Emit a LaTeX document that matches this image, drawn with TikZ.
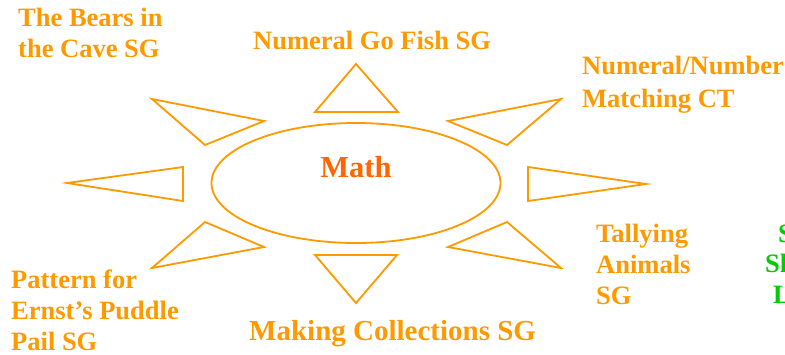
\documentclass[tikz,border=0pt]{standalone}
\usepackage{fontspec}
\setmainfont{Liberation Serif}
\usetikzlibrary{shapes.geometric}
\definecolor{sunorange}{HTML}{FF9900}
\definecolor{hubtext}{HTML}{FF6600}
\definecolor{leafgreen}{HTML}{00CC00}
\tikzset{ray/.style={draw=sunorange,line width=1.8pt,line join=miter},hub/.style={ellipse,draw=sunorange,line width=1.8pt,minimum width=289pt,minimum height=120pt,inner sep=0pt},hublabel/.style={text=hubtext,font=\fontsize{30.5}{32}\selectfont\bfseries,inner sep=0pt,anchor=base},topic/.style={text=sunorange,font=\fontsize{26.5}{30.7}\selectfont\bfseries,align=left,inner sep=0pt,anchor=base west},cuttopic/.style={topic,text=leafgreen}}
\begin{document}
\begin{tikzpicture}[x=1pt,y=-1pt]
\useasboundingbox (0,0) rectangle (785,354);
\clip (0,0) rectangle (785,354);
\node[hub] (mathhub) at (356,183) {};
\node[hublabel] (math) at (356,177) {Math};
\draw[ray] (356,64) -- (315,112) -- (398,112) -- cycle;
\draw[ray] (152,99) -- (264,121) -- (205,145) -- cycle;
\draw[ray] (561,99) -- (448,121) -- (507,145) -- cycle;
\draw[ray] (67,183) -- (183,167) -- (183,201) -- cycle;
\draw[ray] (646,184) -- (528,167) -- (528,201) -- cycle;
\draw[ray] (205,222) -- (264,247) -- (152,268) -- cycle;
\draw[ray] (507,222) -- (448,247) -- (561,268) -- cycle;
\draw[ray] (315,255) -- (397,255) -- (356,303) -- cycle;
% base anchor of a wrapped node sits on its last line
\node[topic] (bears) at (18,57) {The Bears in\\the Cave SG};
\node[topic] (gofish) at (253,49) {Numeral Go Fish SG};
\node[topic,font=\fontsize{26.5}{32.5}\selectfont\bfseries] (matching) at (582,107) {Numeral/Number\\Matching CT};
\node[topic] (tallying) at (596,304) {Tallying\\Animals\\SG};
\node[topic] (pattern) at (11,350) {Pattern for\\Ernst's Puddle\\Pail SG};
\node[topic,font=\fontsize{29}{32}\selectfont\bfseries] (collections) at (249,340) {Making Collections SG};
\node[cuttopic] (cutone) at (778,242) {S};
\node[cuttopic] (cuttwo) at (765,272) {Sh};
\node[cuttopic] (cutthree) at (773,303) {L};
\end{tikzpicture}
\end{document}
